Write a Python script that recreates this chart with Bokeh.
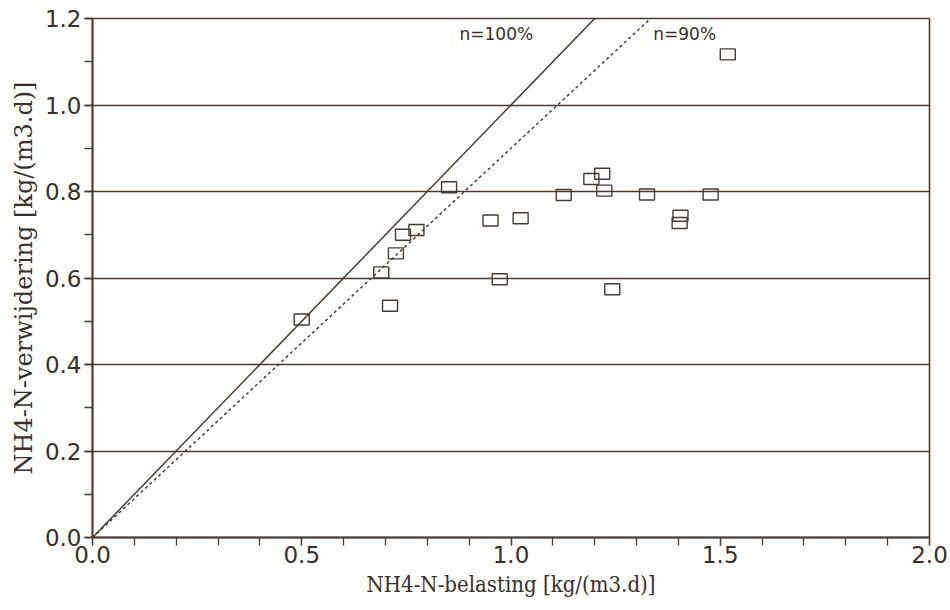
from bokeh.plotting import figure
from bokeh.models import Range1d, FixedTicker, Label, PrintfTickFormatter
from bokeh.embed import file_html
from bokeh.resources import INLINE

# Data
belasting = [0.50, 0.69, 0.711, 0.725, 0.742, 0.774, 0.852, 0.951, 0.973, 1.023,
             1.126, 1.192, 1.218, 1.223, 1.242, 1.325, 1.403, 1.405, 1.477, 1.518]
verwijdering = [0.504, 0.613, 0.536, 0.657, 0.700, 0.711, 0.810, 0.733, 0.597, 0.738,
                0.792, 0.829, 0.841, 0.802, 0.574, 0.793, 0.727, 0.744, 0.793, 1.117]
efficiencies = [1.0, 0.9]
eff_labels = ["n=100%", "n=90%"]
eff_dash = ["solid", "3 3"]
x_ticks = [0.0, 0.5, 1.0, 1.5, 2.0]
y_ticks = [0.0, 0.2, 0.4, 0.6, 0.8, 1.0, 1.2]

INK = "#4a3b32"
TXT = "#3a2e28"
X_MAX, Y_MAX = 2.0, 1.2

p = figure(width=950, height=610, output_backend="svg", toolbar_location=None,
           x_range=Range1d(0, X_MAX), y_range=Range1d(0, Y_MAX),
           min_border_left=92, min_border_right=21, min_border_top=18, min_border_bottom=73)
p.background_fill_color = "white"
p.border_fill_color = "white"
p.outline_line_color = INK
p.outline_line_width = 1.6

p.xgrid.visible = False
p.ygrid.ticker = FixedTicker(ticks=y_ticks)
p.ygrid.grid_line_color = INK
p.ygrid.grid_line_width = 1.5

p.xaxis.ticker = FixedTicker(ticks=x_ticks, minor_ticks=[i / 10 for i in range(21)])
p.yaxis.ticker = FixedTicker(ticks=y_ticks, minor_ticks=[i / 10 for i in range(13)])
for ax in (p.xaxis, p.yaxis):
    ax.axis_line_color = INK
    ax.axis_line_width = 1.8
    ax.major_tick_line_color = INK
    ax.minor_tick_line_color = INK
    ax.major_tick_line_width = 1.3
    ax.minor_tick_line_width = 1.3
    ax.major_tick_out = 8
    ax.major_tick_in = 0
    ax.minor_tick_out = 8
    ax.minor_tick_in = 0
    ax.major_label_text_font = "DejaVu Sans"
    ax.major_label_text_font_size = "23px"
    ax.major_label_text_color = TXT
    ax.axis_label_text_font_style = "normal"
    ax.axis_label_text_color = TXT
    ax.formatter = PrintfTickFormatter(format="%.1f")

p.xaxis.axis_label_text_font = "DejaVu Serif Condensed"
p.xaxis.axis_label_text_font_size = "22px"
p.yaxis.axis_label_text_font = "DejaVu Serif"
p.yaxis.axis_label_text_font_size = "24px"
p.xaxis.major_label_standoff = 0
p.yaxis.major_label_standoff = 3
p.xaxis.axis_label = "NH4-N-belasting [kg/(m3.d)]"
p.yaxis.axis_label = "NH4-N-verwijdering [kg/(m3.d)]"
p.xaxis.axis_label_standoff = 6
p.yaxis.axis_label_standoff = 4

for eff, dash in zip(efficiencies, eff_dash):
    x_end = min(X_MAX, Y_MAX / eff)
    p.line([0, x_end], [0, eff * x_end], line_color=INK, line_width=1.5, line_dash=dash)

p.add_layout(Label(x=0.877, y=1.142, text=eff_labels[0], text_font="DejaVu Sans",
                   text_font_size="17px", text_color=TXT))
p.add_layout(Label(x=1.34, y=1.142, text=eff_labels[1], text_font="DejaVu Sans",
                   text_font_size="17px", text_color=TXT))

p.rect(belasting, verwijdering, width=15, height=11, width_units="screen",
       height_units="screen", fill_color="white", fill_alpha=0.0,
       line_color=INK, line_width=1.4)

open("out.html", "w").write(file_html(p, INLINE))
